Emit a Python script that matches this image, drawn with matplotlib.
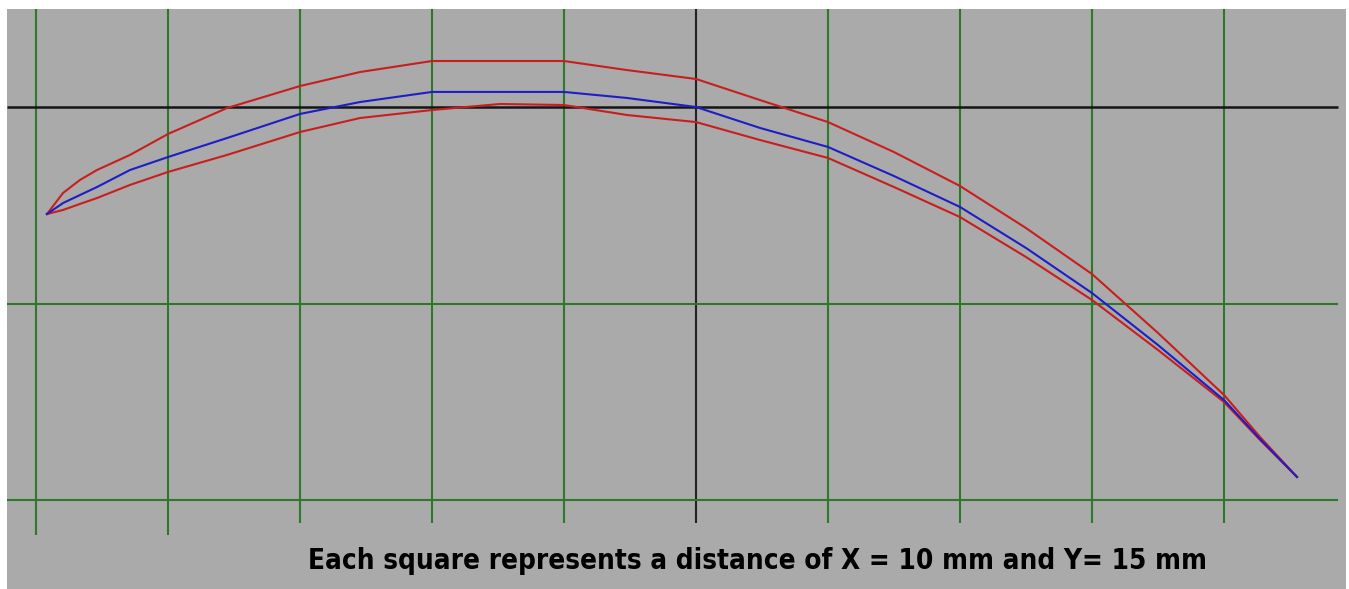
import matplotlib
matplotlib.use("Agg")
import matplotlib.pyplot as plt
from matplotlib import font_manager

# ---- data (mm) ----
x_mm = [-49.17, -47.95, -46.67, -45.38, -42.88, -40.0, -35.53, -30.0, -25.45, -20.0,
        -14.85, -10.0, -5.23, 0.0, 4.85, 10.0, 15.0, 20.0, 25.0, 30.0,
        35.0, 40.0, 42.73, 45.53]
upper_red = [-8.17, -6.56, -5.57, -4.81, -3.66, -2.06, -0.08, 1.60, 2.67, 3.51,
             3.51, 3.51, 2.82, 2.14, 0.53, -1.15, -3.44, -6.03, -9.24, -12.75,
             -17.25, -21.98, -25.19, -28.24]
mean_blue = [-8.17, -7.33, -6.72, -6.11, -4.81, -3.82, -2.37, -0.53, 0.38, 1.15,
             1.15, 1.15, 0.69, 0.0, -1.60, -3.05, -5.27, -7.63, -10.76, -14.20,
             -18.17, -22.37, -25.34, -28.24]
lower_red = [-8.17, -7.86, -7.40, -6.95, -5.95, -4.96, -3.66, -1.91, -0.84, -0.23,
             0.23, 0.15, -0.61, -1.15, -2.52, -3.89, -6.11, -8.40, -11.45, -14.73,
             -18.55, -22.52, -25.42, -28.24]

grid_x = [-50, -40, -30, -20, -10, 0, 10, 20, 30, 40]
grid_y = [0, -15, -30]
caption = "Each square represents a distance of X = 10 mm and Y= 15 mm"

W, H = 1349, 589
fig = plt.figure(figsize=(W / 100, H / 100), dpi=100, facecolor="white")
ax = fig.add_axes([7 / W, 0, (1346 - 7) / W, (589 - 9) / H])
ax.set_facecolor("#aaaaaa")

xmin, xmax = (7 - 696) / 13.2, (1346 - 696) / 13.2
ymax, ymin = (107 - 9) / 13.1, (107 - 589) / 13.1
ax.set_xlim(xmin, xmax)
ax.set_ylim(ymin, ymax)

green = "#2a7a2a"
long_bottom = (107 - 535) / 13.1
short_bottom = (107 - 523) / 13.1
for gx in grid_x:
    col = "#222222" if gx == 0 else green
    bottom = long_bottom if gx <= -40 else short_bottom
    ax.plot([gx, gx], [bottom, ymax], color=col, lw=1.5, zorder=1, solid_capstyle="butt")

hx_right = (1338 - 696) / 13.2
for gy in grid_y:
    col = "#151515" if gy == 0 else green
    ax.plot([xmin, hx_right], [gy, gy], color=col, lw=1.8 if gy == 0 else 1.5,
            zorder=1, solid_capstyle="butt")

ax.plot(x_mm, upper_red, color="#c81e1e", lw=1.5, zorder=3)
ax.plot(x_mm, lower_red, color="#c81e1e", lw=1.5, zorder=3)
ax.plot(x_mm, mean_blue, color="#1e1ec8", lw=1.5, zorder=4)

for s in ax.spines.values():
    s.set_visible(False)
ax.set_xticks([])
ax.set_yticks([])

names = {f.name for f in font_manager.fontManager.ttflist}
fam = ["Liberation Sans Narrow", "DejaVu Sans"] if "Liberation Sans Narrow" in names else ["DejaVu Sans"]
txt = fig.text(758 / W, 1 - 561 / H, caption, ha="center", va="center",
               fontsize=23, fontweight="bold", family=fam, fontstretch="condensed",
               color="black")
# fit caption width to ~900 px
renderer = fig.canvas.get_renderer()
w = txt.get_window_extent(renderer).width
txt.set_fontsize(23 * 900 / w)

fig.savefig("out.png", dpi=100, facecolor="white")
